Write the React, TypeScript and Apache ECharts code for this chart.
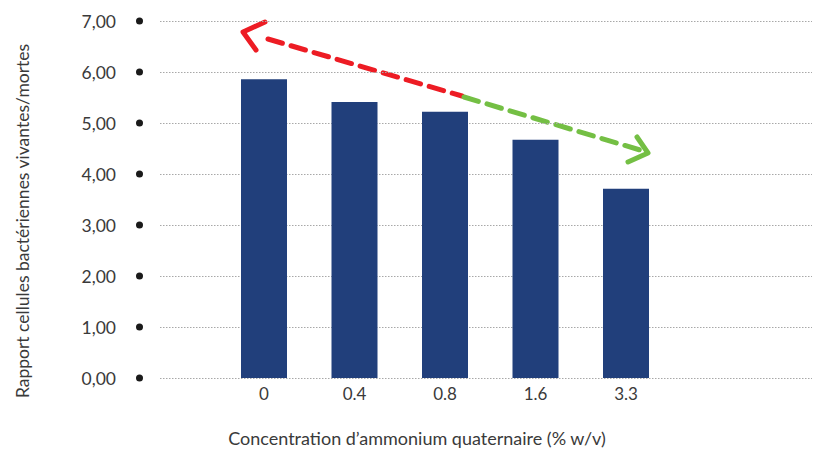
import React, { useEffect, useRef } from "react";
import * as echarts from "echarts";

const categories = ["0", "0.4", "0.8", "1.6", "3.3"];
const ratioValues = [5.86, 5.41, 5.22, 4.67, 3.71];
const yMin = 0;
const yMax = 7;
const yStep = 1;
const yTitle = "Rapport cellules bactériennes vivantes/mortes";
const xTitle = "Concentration d’ammonium quaternaire (% w/v)";

const FONT = "Lato, 'Open Sans', sans-serif";
const TEXT = "#3a3a3a";
const RED = "#ed1c24";
const GREEN = "#74bf44";

export default function App() {
  const ref = useRef<HTMLDivElement>(null);
  useEffect(() => {
    document.body.style.margin = "0";
    if (!ref.current) return;
    const chart = echarts.init(ref.current, undefined, { renderer: "svg" });
    const top = 21;
    const height = 357;
    chart.setOption({
      animation: false,
      grid: [
        { left: 160, right: 1, top, height },
        { left: 218.75, width: 452.5, top, height },
      ],
      xAxis: [
        { type: "value", gridIndex: 0, min: 0, max: 1, show: false },
        {
          type: "category",
          gridIndex: 1,
          data: categories,
          axisLine: { show: false },
          axisTick: { show: false },
          axisLabel: { color: TEXT, fontFamily: FONT, fontSize: 17, margin: 7 },
        },
      ],
      yAxis: [
        {
          type: "value",
          gridIndex: 0,
          min: yMin,
          max: yMax,
          interval: yStep,
          axisLine: { show: false },
          axisTick: { show: false },
          splitLine: { show: true, lineStyle: { color: "#a8a8a8", type: [1.5, 1.5], width: 1 } },
          axisLabel: {
            margin: 17,
            formatter: (v: number) => `{v|${v.toFixed(2).replace(".", ",")}}{g| }{d| }`,
            rich: {
              v: { color: TEXT, fontFamily: FONT, fontSize: 17.5 },
              g: { width: 20 },
              d: { width: 7, height: 7, borderRadius: 3.5, backgroundColor: "#1a1a1a" },
            },
          },
        },
        { type: "value", gridIndex: 1, min: yMin, max: yMax, interval: yStep, show: false },
      ],
      series: [
        {
          type: "bar",
          xAxisIndex: 1,
          yAxisIndex: 1,
          data: ratioValues,
          barWidth: 46,
          itemStyle: { color: "#213f7b" },
        },
      ],
      graphic: [
        {
          type: "text",
          x: 22,
          y: 221,
          rotation: Math.PI / 2,
          style: {
            text: yTitle,
            fill: TEXT,
            font: `17.5px ${FONT}`,
            align: "center",
            verticalAlign: "middle",
          },
        },
        {
          type: "text",
          x: 417,
          y: 438,
          style: {
            text: xTitle,
            fill: TEXT,
            font: `18px ${FONT}`,
            align: "center",
            verticalAlign: "middle",
          },
        },
        {
          type: "line",
          shape: { x1: 268, y1: 39, x2: 462, y2: 96 },
          style: { stroke: RED, lineWidth: 5, lineDash: [15, 9], lineCap: "round" },
        },
        {
          type: "polyline",
          shape: { points: [[265, 22], [243, 32], [256, 50]] },
          style: { stroke: RED, lineWidth: 5, lineCap: "round", lineJoin: "round", fill: "none" },
        },
        {
          type: "line",
          shape: { x1: 464, y1: 97, x2: 640, y2: 150 },
          style: { stroke: GREEN, lineWidth: 5, lineDash: [15, 9], lineCap: "round" },
        },
        {
          type: "polyline",
          shape: { points: [[637, 137], [648, 153], [628, 162]] },
          style: { stroke: GREEN, lineWidth: 5, lineCap: "round", lineJoin: "round", fill: "none" },
        },
      ],
    });
    return () => chart.dispose();
  }, []);
  return <div ref={ref} style={{ width: 813, height: 455 }} />;
}
